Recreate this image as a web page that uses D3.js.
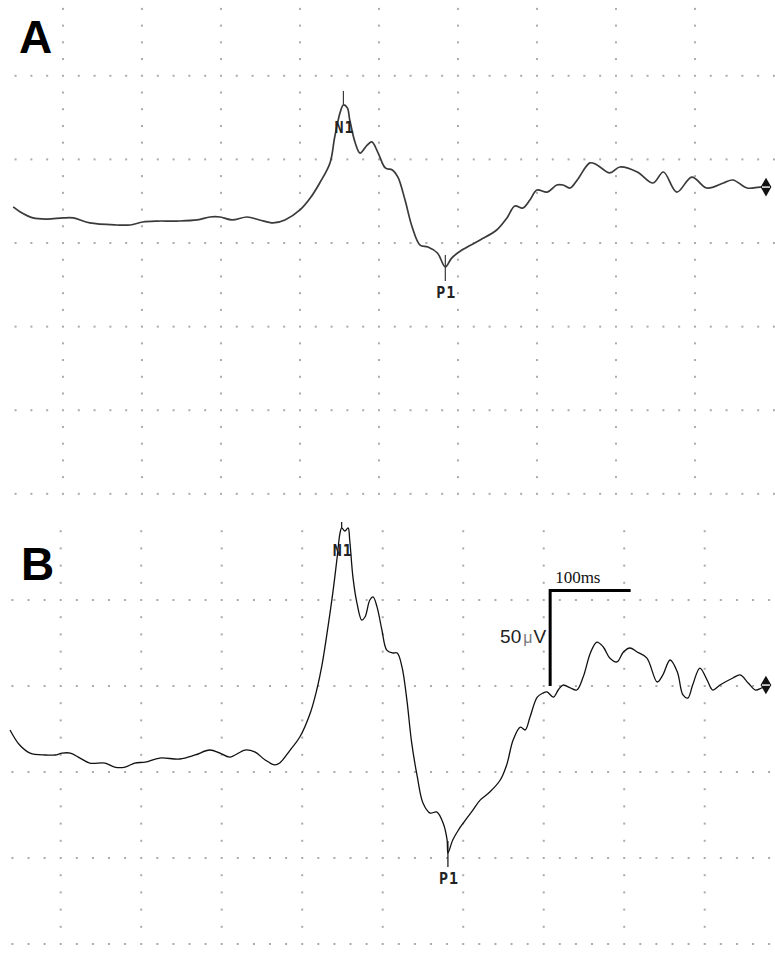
<!DOCTYPE html>
<html>
<head>
<meta charset="utf-8">
<script src="https://cdn.jsdelivr.net/npm/d3@7"></script>
<style>
  html, body { margin: 0; padding: 0; background: #fff; }
  svg { display: block; }
</style>
</head>
<body>
<div id="chart"></div>
<script>
'use strict';

// trace A: time (ms) / amplitude (uV, negative drawn upwards)
const timeA = [0, 9, 25, 43, 63, 76, 97, 131, 148, 164, 182, 207, 233, 249, 262, 277, 296, 312, 329, 344,
  363, 376, 388, 401, 407, 414, 418, 423, 426, 433, 439, 448, 454, 462, 471, 480, 487, 496, 505, 515,
  525, 537, 547, 555, 568, 591, 612, 625, 635, 645, 654, 663, 676, 688, 696, 705, 714, 730, 739, 755,
  768, 790, 810, 823, 840, 859, 878, 899, 911, 929, 945, 958];
const ampA = [-19.4, -16.7, -13.5, -12.9, -13.5, -13.5, -10.8, -9.7, -9.7, -11.3, -11.8, -11.8, -12.4, -14.0, -14.0, -12.4, -14.0, -12.4, -10.8, -12.4,
  -17.8, -24.2, -32.3, -43.1, -57.1, -70.5, -74.3, -72.7, -66.2, -53.8, -48.4, -52.7, -54.4, -48.4, -40.4, -39.3, -35.5, -23.1, -8.6, 1.1,
  2.2, 5.4, 12.9, 8.1, 3.8, -1.6, -7.0, -13.5, -19.9, -18.8, -23.1, -28.5, -27.4, -31.2, -31.2, -29.6, -33.9, -43.1, -42.0, -37.7,
  -40.9, -38.2, -32.3, -38.2, -27.4, -35.5, -29.6, -32.3, -33.9, -29.6, -30.1, -30.1];

// trace B
const timeB = [0, 12, 25, 44, 56, 65, 75, 87, 99, 118, 130, 143, 155, 168, 186, 211, 230, 248, 261, 273,
  292, 304, 317, 329, 335, 348, 360, 373, 381, 388, 395, 401, 406, 410, 412, 416, 420, 422, 426, 431,
  437, 441, 447, 451, 456, 462, 468, 475, 481, 487, 493, 499, 506, 513, 522, 530, 538, 543, 544, 550,
  557, 563, 575, 584, 596, 609, 617, 625, 634, 640, 646, 655, 662, 667, 675, 681, 687, 696, 704, 712,
  721, 729, 737, 745, 754, 762, 770, 779, 791, 804, 811, 820, 829, 836, 842, 848, 857, 866, 873, 882,
  898, 907, 917, 926, 934, 944];
const ampB = [-22.0, -14.1, -9.9, -8.9, -8.9, -9.9, -9.9, -7.3, -4.7, -4.7, -2.6, -2.6, -4.7, -5.2, -7.3, -6.8, -8.9, -11.5, -9.9, -7.8,
  -11.5, -10.5, -6.3, -3.7, -4.7, -11.5, -18.3, -30.9, -42.9, -57.0, -75.9, -93.7, -110.9, -125.1, -127.7, -126.1, -127.7, -121.4, -102.0, -88.4,
  -79.5, -81.1, -90.0, -91.6, -86.3, -74.3, -63.8, -62.3, -62.3, -54.9, -37.7, -15.2, 2.6, 16.2, 21.5, 20.9, 26.7, 35.6, 42.4, 35.6,
  30.4, 26.7, 19.9, 14.7, 10.5, 4.2, -3.7, -16.7, -23.5, -22.0, -28.8, -39.2, -41.3, -41.9, -39.2, -42.9, -45.5, -44.0, -42.9, -49.7,
  -62.3, -68.0, -65.4, -59.7, -57.6, -62.8, -64.9, -62.8, -59.7, -47.1, -50.8, -58.6, -52.3, -40.3, -38.7, -45.5, -54.4, -48.1, -42.9, -45.5,
  -49.2, -50.8, -46.6, -42.9, -44.0, -45.5];

// display grid: one division = 100 ms by 45 uV
const gridMs = [63, 163, 263, 363, 463, 563, 663, 763, 863];
const rowsA = [-90, -45, 0, 45, 90, 135];
const rowsB = [-90, -45, 0, 45, 90];

// scale bar (panel B)
const scaleBarMs = 100;
const scaleBarUv = 50;
const scaleBarAt = [671, -95];

const W = 775;
const H = 960;

const panels = [
  { name: 'A', time: timeA, amp: ampA, rows: rowsA, x0: 13.2, kx: 0.79, y0: 243, ky: 1.858,
    top: 0, bottom: 500, vMin: -126, vMax: 126, stroke: '#3a3a3a', width: 1.7, labelY: 53, bar: false },
  { name: 'B', time: timeB, amp: ampB, rows: rowsB, x0: 10, kx: 0.805, y0: 772, ky: 1.911,
    top: 522, bottom: 960, vMin: -126, vMax: 99, stroke: '#111', width: 1.3, labelY: 580, bar: true }
];

const svg = d3.select('#chart').append('svg')
  .attr('width', W)
  .attr('height', H);

svg.append('rect').attr('width', W).attr('height', H).attr('fill', '#fff');

panels.forEach(function(p, i) {
  const x = d3.scaleLinear().domain([0, 1000]).range([p.x0, p.x0 + 1000 * p.kx]);
  const y = d3.scaleLinear().domain([0, 100]).range([p.y0, p.y0 + 100 * p.ky]);

  svg.append('clipPath').attr('id', 'clip' + i)
    .append('rect')
    .attr('x', 0).attr('y', p.top)
    .attr('width', W).attr('height', p.bottom - p.top);

  const g = svg.append('g').attr('clip-path', 'url(#clip' + i + ')');

  // dotted grid
  const dots = g.append('g').attr('fill', '#ababab');
  const colVals = d3.range(p.vMin, p.vMax + 0.1, 9).filter(v => Math.abs(v % 45) > 0.1);
  gridMs.forEach(function(t) {
    dots.selectAll(null).data(colVals).join('rect')
      .attr('x', x(t) - 1).attr('y', v => y(v) - 1)
      .attr('width', 2).attr('height', 2);
  });
  const rowTimes = d3.range(gridMs[0] - 60, 980, 20);
  p.rows.forEach(function(v) {
    dots.selectAll(null).data(rowTimes).join('rect')
      .attr('x', t => x(t) - 1).attr('y', y(v) - 1)
      .attr('width', 2).attr('height', 2);
  });

  // trace
  const pts = p.time.map((t, k) => [t, p.amp[k]]);
  const line = d3.line()
    .x(d => x(d[0]))
    .y(d => y(d[1]))
    .curve(d3.curveCatmullRom.alpha(0.5));

  g.append('path')
    .datum(pts)
    .attr('fill', 'none')
    .attr('stroke', p.stroke)
    .attr('stroke-width', p.width)
    .attr('stroke-linejoin', 'round')
    .attr('d', line);

  // N1 / P1 markers
  const n1 = pts[d3.minIndex(p.amp)];
  const p1 = pts[d3.maxIndex(p.amp)];
  const markStyle = 'font-family: "DejaVu Sans Mono", monospace; font-weight: bold; font-size: 15px; letter-spacing: 1px;';

  g.append('line')
    .attr('x1', x(n1[0])).attr('x2', x(n1[0]))
    .attr('y1', y(n1[1]) - 14).attr('y2', y(n1[1]))
    .attr('stroke', p.stroke).attr('stroke-width', 1.2);
  g.append('text')
    .attr('x', x(n1[0]) + 1)
    .attr('y', y(n1[1]) + 28)
    .attr('text-anchor', 'middle')
    .attr('style', markStyle)
    .attr('fill', '#222')
    .text('N1');

  g.append('line')
    .attr('x1', x(p1[0])).attr('x2', x(p1[0]))
    .attr('y1', y(p1[1]) - 12).attr('y2', y(p1[1]) + 14)
    .attr('stroke', p.stroke).attr('stroke-width', 1.2);
  g.append('text')
    .attr('x', x(p1[0]) + 1)
    .attr('y', y(p1[1]) + 31)
    .attr('text-anchor', 'middle')
    .attr('style', markStyle)
    .attr('fill', '#222')
    .text('P1');

  // end marker
  const last = pts[pts.length - 1];
  const ex = x(last[0]) - 4;
  const ey = y(last[1]);
  g.append('path')
    .attr('transform', 'translate(' + ex + ',' + ey + ')')
    .attr('d', d3.symbol().type(d3.symbolDiamond).size(100)())
    .attr('fill', '#111');
  g.append('line')
    .attr('x1', ex - 4).attr('x2', ex + 4)
    .attr('y1', ey).attr('y2', ey)
    .attr('stroke', '#fff').attr('stroke-width', 1.4);

  // scale bar
  if (p.bar) {
    const bx = x(scaleBarAt[0]);
    const by = y(scaleBarAt[1]);
    g.append('path')
      .attr('d', 'M' + bx + ',' + y(scaleBarAt[1] + scaleBarUv) + 'V' + by + 'H' + x(scaleBarAt[0] + scaleBarMs))
      .attr('fill', 'none')
      .attr('stroke', '#000')
      .attr('stroke-width', 3);
    g.append('text')
      .attr('x', bx + 5)
      .attr('y', by - 7)
      .attr('style', 'font-family: "Liberation Serif", "Times New Roman", serif; font-size: 17px;')
      .attr('fill', '#111')
      .text(scaleBarMs + 'ms');
    const t = g.append('text')
      .attr('x', bx - 4)
      .attr('y', y(scaleBarAt[1] + scaleBarUv / 2) + 5)
      .attr('text-anchor', 'end')
      .attr('style', 'font-family: "Liberation Sans", Arial, sans-serif; font-size: 19px;')
      .attr('fill', '#222');
    t.append('tspan').text(scaleBarUv);
    t.append('tspan').attr('font-size', '16px').attr('fill', '#777').attr('dx', 2).text('\u03bc');
    t.append('tspan').attr('dx', 1).text('V');
  }

  svg.append('text')
    .attr('x', p.name === 'A' ? 19 : 21)
    .attr('y', p.labelY)
    .attr('style', 'font-family: "Liberation Sans", Arial, sans-serif; font-weight: bold; font-size: 46px;')
    .attr('fill', '#000')
    .text(p.name);
});
</script>
</body>
</html>
